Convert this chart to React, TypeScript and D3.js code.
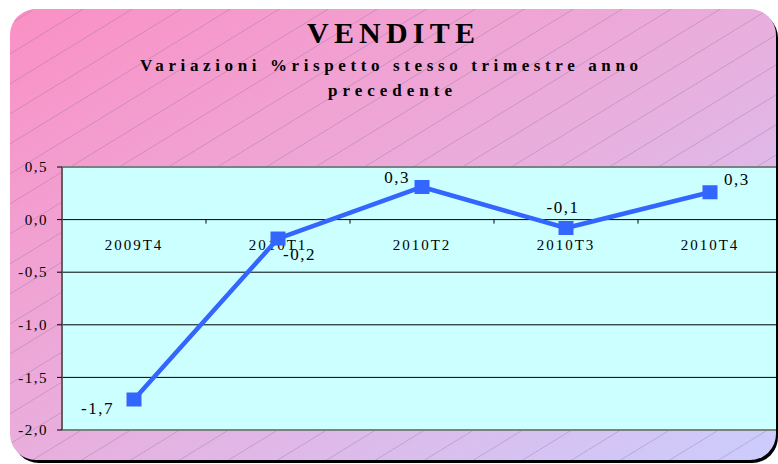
import * as d3 from "d3";

const categories = ["2009T4", "2010T1", "2010T2", "2010T3", "2010T4"];
const values = [-1.71, -0.18, 0.31, -0.08, 0.26];
const yTicks = [0.5, 0, -0.5, -1, -1.5, -2];
// where each value label sits relative to its marker
const labelSide = ["left-below", "right-below", "left-above", "above", "right-above"];

const W = 778;
const H = 464;
const margin = { top: 167, right: -4, bottom: 34, left: 62 };
const serif = "'Liberation Serif', 'Times New Roman', serif";

const fmt = (v) => d3.format(".1f")(v).replace(".", ",").replace("−", "-");

export default function App() {
  const x = d3
    .scaleBand()
    .domain(categories)
    .range([margin.left, W - margin.right]);
  const y = d3
    .scaleLinear()
    .domain([-2, 0.5])
    .range([H - margin.bottom, margin.top]);

  const cx = (c) => x(c) + x.bandwidth() / 2;
  const line = d3
    .line()
    .x((d, i) => cx(categories[i]))
    .y((d) => y(d));

  const labelPos = (side) => {
    if (side === "left-below") return { dx: -20, dy: 15, anchor: "end" };
    if (side === "right-below") return { dx: 5, dy: 21, anchor: "start" };
    if (side === "left-above") return { dx: -12, dy: -4, anchor: "end" };
    if (side === "above") return { dx: -3, dy: -15, anchor: "middle" };
    return { dx: 14, dy: -7, anchor: "start" };
  };

  return (
    <svg
      width={W}
      height={H}
      style={{ position: "absolute", left: 0, top: 0, background: "#fff" }}
    >
      <defs>
        <linearGradient id="bg" x1="0" y1="0" x2="1" y2="1">
          <stop offset="0" stopColor="#fb90c4" />
          <stop offset="0.5" stopColor="#e9aedd" />
          <stop offset="1" stopColor="#cbcdfd" />
        </linearGradient>
        <pattern id="hatch" patternUnits="userSpaceOnUse" width={49} height={30}>
          <line x1={0} y1={30} x2={49} y2={0} stroke="#7a6a8a" strokeOpacity={0.45} strokeWidth={0.7} />
        </pattern>
        <clipPath id="frame">
          <rect x={11} y={10} width={765} height={450} rx={26} ry={26} />
        </clipPath>
      </defs>

      {/* shadow + frame */}
      <rect x={13} y={12} width={765} height={451} rx={26} ry={26} fill="#000" />
      <rect x={10} y={9} width={766} height={451} rx={26} ry={26} fill="url(#bg)" />
      <rect x={10} y={9} width={766} height={451} rx={26} ry={26} fill="url(#hatch)" />

      <g clipPath="url(#frame)">
        <rect
          x={margin.left}
          y={margin.top}
          width={W - margin.right - margin.left}
          height={y(-2) - y(0.5)}
          fill="#ccffff"
        />
        {yTicks
          .filter((t) => t < 0.5 && t > -2)
          .map((t) => (
            <line key={t} x1={margin.left} x2={W} y1={y(t)} y2={y(t)} stroke="#000" strokeWidth={1} />
          ))}
        <line x1={margin.left} x2={W} y1={y(0.5)} y2={y(0.5)} stroke="#808080" strokeWidth={2} />
        <line x1={margin.left} x2={W} y1={y(-2)} y2={y(-2)} stroke="#808080" strokeWidth={2} />
        {categories.slice(1).map((c) => (
          <line key={c} x1={x(c)} x2={x(c)} y1={y(0)} y2={y(0) + 4} stroke="#000" />
        ))}
      </g>

      <line x1={margin.left} x2={margin.left} y1={y(0.5)} y2={y(-2)} stroke="#606060" strokeWidth={2} />
      {yTicks.map((t) => (
        <g key={t}>
          <line x1={margin.left - 5} x2={margin.left} y1={y(t)} y2={y(t)} stroke="#000" />
          <text
            x={48}
            y={y(t)}
            dy="0.35em"
            textAnchor="end"
            fontFamily={serif}
            fontSize={15}
            letterSpacing={1.5}
            fill="#000"
          >
            {fmt(t)}
          </text>
        </g>
      ))}

      {categories.map((c) => (
        <text
          key={c}
          x={cx(c)}
          y={y(0) + 30}
          textAnchor="middle"
          fontFamily={serif}
          fontSize={15}
          letterSpacing={2}
          fill="#000"
        >
          {c}
        </text>
      ))}

      <path d={line(values)} fill="none" stroke="#3366ff" strokeWidth={4.5} strokeLinejoin="round" />
      {values.map((v, i) => (
        <rect
          key={i}
          x={cx(categories[i]) - 7.5}
          y={y(v) - 7}
          width={15}
          height={14}
          fill="#3366ff"
        />
      ))}
      {values.map((v, i) => {
        const p = labelPos(labelSide[i]);
        return (
          <text
            key={i}
            x={cx(categories[i]) + p.dx}
            y={y(v) + p.dy}
            textAnchor={p.anchor}
            fontFamily={serif}
            fontSize={17}
            letterSpacing={1.5}
            fill="#000"
          >
            {fmt(v)}
          </text>
        );
      })}

      <text
        x={391}
        y={43}
        textAnchor="middle"
        fontFamily={serif}
        fontWeight="bold"
        fontSize={30}
        textLength={168}
        lengthAdjust="spacing"
        fill="#000"
      >
        VENDITE
      </text>
      <text
        x={389}
        y={71}
        textAnchor="middle"
        fontFamily={serif}
        fontWeight="bold"
        fontSize={17}
        textLength={498}
        lengthAdjust="spacing"
        fill="#000"
      >
        Variazioni %rispetto stesso trimestre anno
      </text>
      <text
        x={390}
        y={96}
        textAnchor="middle"
        fontFamily={serif}
        fontWeight="bold"
        fontSize={17}
        textLength={124}
        lengthAdjust="spacing"
        fill="#000"
      >
        precedente
      </text>
    </svg>
  );
}
